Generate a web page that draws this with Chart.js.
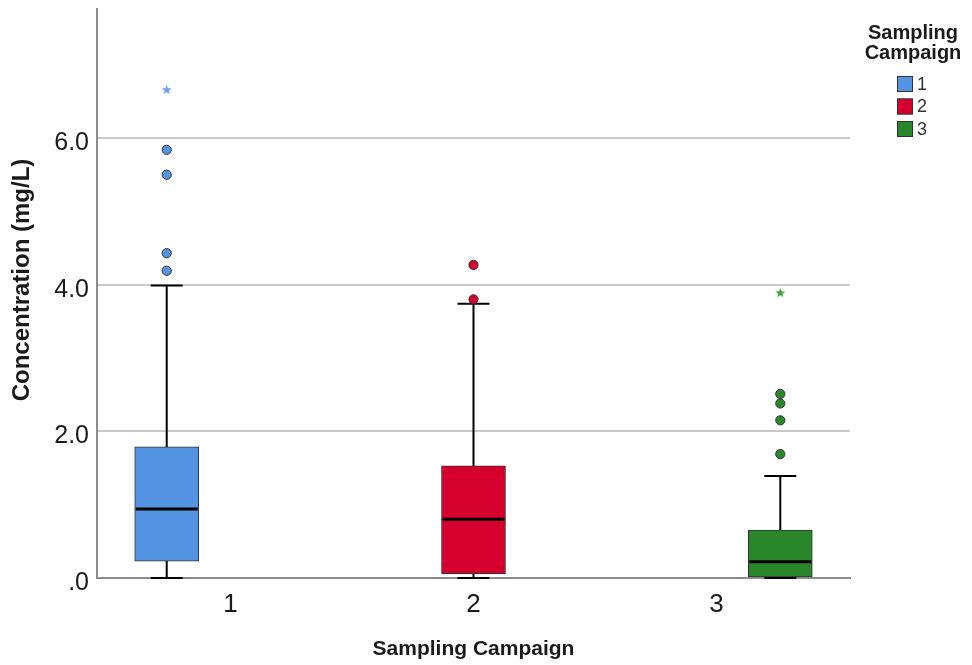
<!DOCTYPE html>
<html>
<head>
<meta charset="utf-8">
<script src="https://cdn.jsdelivr.net/npm/chart.js@4.4.0/dist/chart.umd.min.js"></script>
<style>
  html, body { margin: 0; padding: 0; background: #fff; }
</style>
</head>
<body>
<canvas id="chart" width="972" height="665"></canvas>
<script>
// values (mg/L)
const categories = ['1', '2', '3'];
const whiskerLow = [0, 0, 0];
const q1 = [0.23, 0.06, 0.0];
const median = [0.94, 0.80, 0.22];
const q3 = [1.79, 1.53, 0.655];
const whiskerHigh = [3.99, 3.74, 1.39];
const outliers = [[4.19, 4.43, 5.50, 5.84], [3.80, 4.27], [1.69, 2.15, 2.38, 2.51]];
const extremes = [[6.66], [], [3.89]];
const yTicks = [0, 2, 4, 6];

const colors = ['#5594e2', '#d6002f', '#2a862a'];
const starColors = ['#6aa2ea', '#d6002f', '#3fa33f'];
const FONT = "'Liberation Sans', Arial, sans-serif";
const clusterStep = 0.263;   // SPSS puts each campaign in its own cluster slot
const boxWidth = 64;

// x position of each box: category centre shifted to its cluster slot
const boxPos = categories.map((c, i) => (i + 1) + (i - 1) * clusterStep);

function makeStar(color) {
  const c = document.createElement('canvas');
  c.width = 11;
  c.height = 11;
  const g = c.getContext('2d');
  g.fillStyle = color;
  g.beginPath();
  for (let k = 0; k < 10; k++) {
    const r = k % 2 ? 2.2 : 5.2;
    const a = -Math.PI / 2 + k * Math.PI / 5;
    const px = 5.5 + r * Math.cos(a);
    const py = 5.8 + r * Math.sin(a);
    if (k) g.lineTo(px, py); else g.moveTo(px, py);
  }
  g.closePath();
  g.fill();
  return c;
}

const datasets = [];
categories.forEach((c, i) => {
  datasets.push({
    type: 'bar',
    label: c,
    data: [{ x: boxPos[i], y: [q1[i], q3[i]] }],
    backgroundColor: colors[i],
    borderColor: '#333',
    borderWidth: 1,
    borderSkipped: false,
    barThickness: boxWidth,
    grouped: false,
    order: 2,
  });
  datasets.push({
    type: 'scatter',
    label: c + ' outliers',
    data: outliers[i].map((v) => ({ x: boxPos[i], y: v })),
    pointStyle: 'circle',
    pointRadius: 4.6,
    backgroundColor: colors[i],
    borderColor: '#333',
    borderWidth: 1,
    order: 1,
  });
  datasets.push({
    type: 'scatter',
    label: c + ' extremes',
    data: extremes[i].map((v) => ({ x: boxPos[i], y: v })),
    pointStyle: makeStar(starColors[i]),
    order: 1,
  });
});

// whiskers under the boxes, medians on top
const boxParts = {
  id: 'boxParts',
  beforeDatasetsDraw(chart) {
    const { ctx, scales: { x, y } } = chart;
    ctx.save();
    ctx.strokeStyle = '#000';
    ctx.lineWidth = 2;
    boxPos.forEach((p, i) => {
      const px = x.getPixelForValue(p);
      const half = boxWidth / 4;
      ctx.beginPath();
      ctx.moveTo(px, y.getPixelForValue(whiskerLow[i]));
      ctx.lineTo(px, y.getPixelForValue(whiskerHigh[i]));
      [whiskerLow[i], whiskerHigh[i]].forEach((v) => {
        const py = y.getPixelForValue(v);
        ctx.moveTo(px - half, py);
        ctx.lineTo(px + half, py);
      });
      ctx.stroke();
    });
    ctx.restore();
  },
  afterDatasetsDraw(chart) {
    const { ctx, scales: { x, y } } = chart;
    ctx.save();
    ctx.strokeStyle = '#000';
    ctx.lineWidth = 3;
    boxPos.forEach((p, i) => {
      const px = x.getPixelForValue(p);
      const py = y.getPixelForValue(median[i]);
      ctx.beginPath();
      ctx.moveTo(px - boxWidth / 2 + 1, py);
      ctx.lineTo(px + boxWidth / 2 - 1, py);
      ctx.stroke();
    });
    ctx.restore();
  },
};

// legend box on the right and the y title (SPSS centres it a little high)
const sideText = {
  id: 'sideText',
  afterDraw(chart) {
    const { ctx } = chart;
    const cx = 913;
    ctx.save();
    ctx.fillStyle = '#1a1a1a';
    ctx.font = `bold 20px ${FONT}`;
    ctx.textAlign = 'center';
    ctx.textBaseline = 'alphabetic';
    ctx.fillText('Sampling', cx, 39);
    ctx.fillText('Campaign', cx, 59);
    ctx.font = `18px ${FONT}`;
    ctx.textAlign = 'left';
    ctx.textBaseline = 'middle';
    categories.forEach((c, i) => {
      const cy = 84 + i * 22.5;
      ctx.fillStyle = colors[i];
      ctx.fillRect(897, cy - 8, 16, 16);
      ctx.strokeStyle = '#333';
      ctx.lineWidth = 1;
      ctx.strokeRect(897.5, cy - 7.5, 15, 15);
      ctx.fillStyle = '#333';
      ctx.fillText(c, 917, cy + 1);
    });

    ctx.translate(22, 280);
    ctx.rotate(-Math.PI / 2);
    ctx.font = `bold 24px ${FONT}`;
    ctx.textAlign = 'center';
    ctx.textBaseline = 'middle';
    ctx.fillStyle = '#1a1a1a';
    ctx.fillText('Concentration (mg/L)', 0, 0);
    ctx.restore();
  },
};

new Chart(document.getElementById('chart'), {
  type: 'scatter',
  data: { datasets },
  options: {
    responsive: false,
    animation: false,
    devicePixelRatio: 1,
    layout: { padding: { top: 9, right: 122, left: 0, bottom: 0 } },
    plugins: {
      legend: { display: false },
      tooltip: { enabled: false },
    },
    scales: {
      x: {
        type: 'linear',
        min: 0.45,
        max: 3.55,
        offset: false,
        afterFit(scale) {
          scale.height = 87;
          scale.paddingLeft = 0;
          scale.paddingRight = 0;
        },
        afterBuildTicks(scale) {
          scale.ticks = categories.map((c, i) => ({ value: i + 1 }));
        },
        ticks: {
          callback: (v) => categories[v - 1],
          font: { family: FONT, size: 26 },
          color: '#1a1a1a',
          padding: 3,
          maxRotation: 0,
        },
        grid: { display: false },
        border: { display: true, color: '#8c8c8c', width: 2 },
        title: {
          display: true,
          text: 'Sampling Campaign',
          font: { family: FONT, size: 21, weight: 'bold' },
          color: '#1a1a1a',
          padding: { top: 0, bottom: 3 },
        },
      },
      y: {
        type: 'linear',
        min: 0,
        max: 7.76,
        afterFit(scale) {
          scale.width = 97;
          scale.paddingTop = 0;
          scale.paddingBottom = 0;
        },
        afterBuildTicks(scale) {
          scale.ticks = yTicks.map((v) => ({ value: v }));
        },
        ticks: {
          callback: (v) => (v === 0 ? '.0' : v.toFixed(1)),
          font: { family: FONT, size: 25 },
          color: '#1a1a1a',
          padding: 8,
          labelOffset: 5,
        },
        grid: {
          drawTicks: false,
          color: (c) => (c.tick && c.tick.value === 0 ? 'rgba(0,0,0,0)' : '#c9c9c9'),
          lineWidth: 2,
        },
        border: { display: true, color: '#8c8c8c', width: 2 },
        title: { display: false },
      },
    },
  },
  plugins: [boxParts, sideText],
});
</script>
</body>
</html>
